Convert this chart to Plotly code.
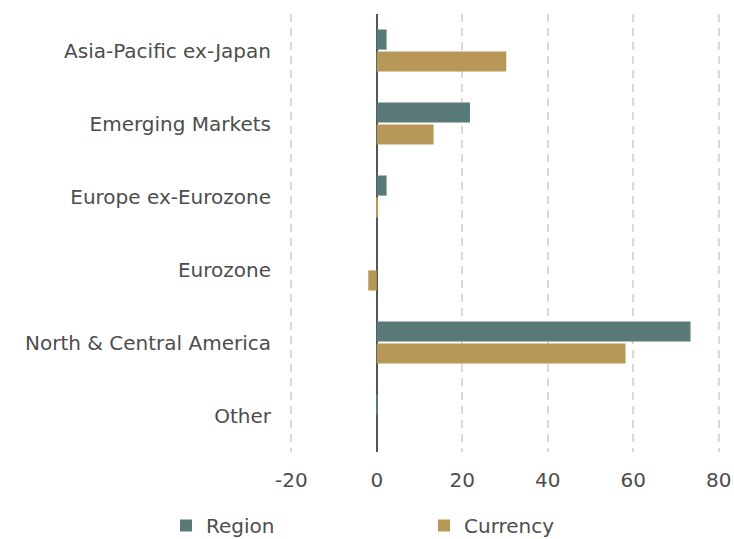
import plotly.graph_objects as go

categories = ["Asia-Pacific ex-Japan", "Emerging Markets", "Europe ex-Eurozone",
              "Eurozone", "North & Central America", "Other"]
region = [2.3, 21.8, 2.3, 0.0, 73.4, 0.2]
currency = [30.3, 13.3, 0.3, -2.0, 58.2, 0.0]
tick_vals = [-20, 0, 20, 40, 60, 80]

FONT = "DejaVu Sans"
TXT = "#4d4d4d"
FS = 20

fig = go.Figure()
fig.add_trace(go.Bar(y=categories, x=region, name="Region", orientation="h",
                     marker=dict(color="#5a7a78", line=dict(width=0)), legend="legend"))
fig.add_trace(go.Bar(y=categories, x=currency, name="Currency", orientation="h",
                     marker=dict(color="#b89858", line=dict(width=0)), legend="legend2"))

leg_common = dict(orientation="h", xref="container", xanchor="left",
                  yref="container", y=1 - 506/539, yanchor="top",
                  font=dict(family=FONT, size=FS, color=TXT), bgcolor="rgba(0,0,0,0)")

fig.update_layout(
    width=734, height=539,
    margin=dict(l=290, r=14, t=14, b=87, autoexpand=False),
    paper_bgcolor="white", plot_bgcolor="white",
    barmode="group", bargap=0.4, bargroupgap=0.08,
    font=dict(family=FONT, size=FS, color=TXT),
    showlegend=True,
    legend=dict(x=166/734, **leg_common),
    legend2=dict(x=424/734, **leg_common),
    xaxis=dict(range=[-20.3, 80.3], tickvals=tick_vals, ticktext=[str(v) for v in tick_vals],
               showgrid=True, gridcolor="#d9d9d9", gridwidth=2, griddash="8px,6px",
               zeroline=True, zerolinecolor="#555555", zerolinewidth=2,
               showline=False, ticks="", ticklabelstandoff=14,
               tickfont=dict(family=FONT, size=FS, color=TXT)),
    yaxis=dict(categoryorder="array", categoryarray=categories, autorange="reversed",
               showgrid=False, showline=False, ticks="", ticklabelstandoff=18,
               tickfont=dict(family=FONT, size=FS, color=TXT)),
)

fig.write_html("out.html")
